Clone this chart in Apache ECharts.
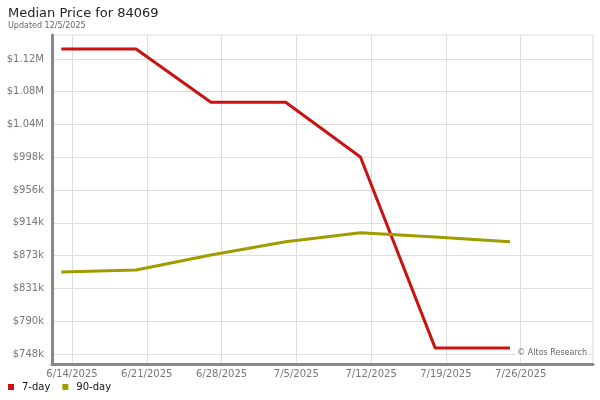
<!DOCTYPE html>
<html>
<head>
<meta charset="utf-8">
<title>Median Price for 84069</title>
<script src="https://cdn.jsdelivr.net/npm/echarts@6/dist/echarts.min.js"></script>
<style>
    html, body { margin: 0; padding: 0; background: #fff; }
    #chart { width: 600px; height: 400px; }
</style>
</head>
<body>
<div id="chart"></div>
<script>
    // weekly points (the data dates), tick dates are the day after
    var dates = ["2025-06-13", "2025-06-20", "2025-06-27", "2025-07-04", "2025-07-11", "2025-07-18", "2025-07-25"];
    var sevenDay = [1135000, 1135000, 1067500, 1067500, 998000, 755500, 755500];
    var ninetyDay = [852000, 854500, 873500, 890500, 902000, 896500, 890500];
    var xTicks = ["2025-06-14", "2025-06-21", "2025-06-28", "2025-07-05", "2025-07-12", "2025-07-19", "2025-07-26"];
    var yTicks = [748000, 789600, 831200, 872800, 914400, 956000, 997600, 1039200, 1080800, 1122400];

    var DAY = 86400000;
    // dates as day numbers (days since 1970-01-01, UTC) so a plain value axis can take them
    function toDay(s) {
        var p = s.split("-");
        return Date.UTC(+p[0], +p[1] - 1, +p[2]) / DAY;
    }

    function pairs(vals) {
        return dates.map(function (d, i) { return [toDay(d), vals[i]]; });
    }

    var chart = echarts.init(document.getElementById("chart"));
    var font = "DejaVu Sans";

    var option = {
        animation: false,
        textStyle: { fontFamily: font },
        title: {
            text: "Median Price for 84069",
            subtext: "Updated 12/5/2025",
            left: 3,
            top: 2,
            itemGap: 2,
            textStyle: { fontSize: 13, fontWeight: "normal", color: "#222", fontFamily: font },
            subtextStyle: { fontSize: 8, color: "#666", fontFamily: font }
        },
        legend: {
            left: 3,
            bottom: 3,
            icon: "rect",
            itemWidth: 6,
            itemHeight: 6,
            itemGap: 12,
            textStyle: { fontSize: 10, color: "#111", fontFamily: font, padding: [0, 0, 0, 3] },
            data: ["7-day", "90-day"]
        },
        grid: {
            left: 52,
            right: 7,
            top: 35,
            bottom: 36,
            show: true,
            borderColor: "#ddd",
            borderWidth: 1
        },
        xAxis: {
            type: "value",
            min: toDay("2025-06-12") + 0.13,
            max: toDay("2025-08-01") + 0.77,
            axisLine: { lineStyle: { color: "#888", width: 3 } },
            axisTick: { show: false, customValues: xTicks.map(toDay) },
            axisLabel: {
                customValues: xTicks.map(toDay),
                color: "#777",
                fontSize: 10,
                margin: 5,
                formatter: function (v) {
                    var d = new Date(Math.round(v) * DAY);
                    return (d.getUTCMonth() + 1) + "/" + d.getUTCDate() + "/" + d.getUTCFullYear();
                }
            },
            splitLine: { show: true, lineStyle: { color: "#ddd", width: 1 } }
        },
        yAxis: {
            type: "value",
            min: 735300,
            max: 1152800,
            axisLine: { show: true, lineStyle: { color: "#888", width: 3 } },
            axisTick: { show: false, customValues: yTicks },
            axisLabel: {
                customValues: yTicks,
                color: "#777",
                fontSize: 10,
                margin: 8,
                formatter: function (v) {
                    if (v >= 1000000) return "$" + (v / 1000000).toFixed(2) + "M";
                    return "$" + Math.round(v / 1000) + "k";
                }
            },
            splitLine: { show: true, lineStyle: { color: "#ddd", width: 1 } }
        },
        graphic: [{
            type: "text",
            right: 12,
            top: 348,
            z: 100,
            style: {
                text: "\u00a9 Altos Research",
                fill: "#666",
                font: "8px DejaVu Sans",
                backgroundColor: "#fff",
                padding: [1, 1, 1, 1]
            }
        }],
        series: [
            {
                name: "7-day",
                type: "line",
                data: pairs(sevenDay),
                showSymbol: false,
                itemStyle: { color: "#cc1111" },
                lineStyle: { color: "#cc1111", width: 3 }
            },
            {
                name: "90-day",
                type: "line",
                data: pairs(ninetyDay),
                showSymbol: false,
                itemStyle: { color: "#a09c00" },
                lineStyle: { color: "#a09c00", width: 3 }
            }
        ]
    };

    chart.setOption(option);
</script>
</body>
</html>
